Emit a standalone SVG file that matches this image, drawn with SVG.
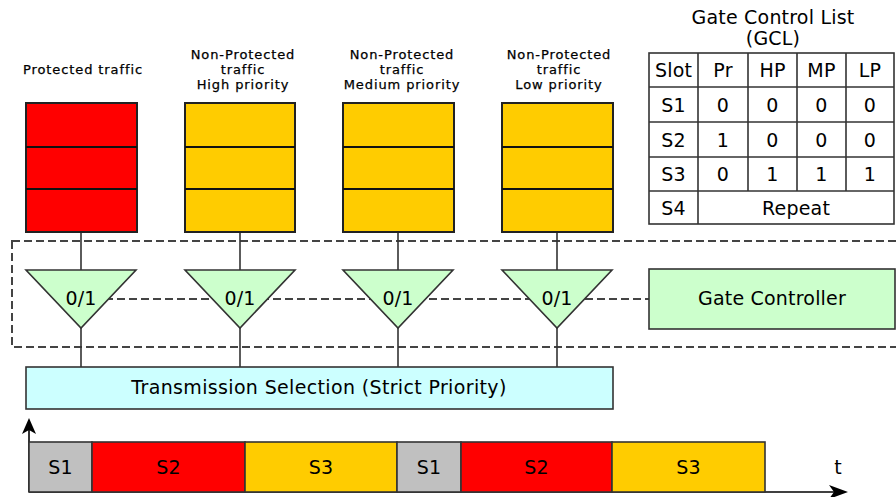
<svg xmlns="http://www.w3.org/2000/svg" width="896" height="497" viewBox="0 0 896 497">
<style>
text{font-family:"DejaVu Sans",Verdana,sans-serif;fill:#000}
.lbl{font-size:13px;text-anchor:middle;letter-spacing:0.9px;stroke:#000;stroke-width:0.25}
.big{font-size:19px;text-anchor:middle;letter-spacing:0.2px}
.q{stroke:#222;stroke-width:2}
.red{fill:#ff0000}
.yel{fill:#ffcc00}
.gry{fill:#c0c0c0}
.div{stroke:#111;stroke-width:2}
.ln{stroke:#333;stroke-width:1.6;fill:none}
.dash{stroke:#444;stroke-width:2;fill:none;stroke-dasharray:8,4}
.tri{fill:#ccffcc;stroke:#333;stroke-width:1.6}
.tbl{fill:#fff;stroke:#333;stroke-width:1.6}
.slot{stroke:#333;stroke-width:1.6}
.axis{stroke:#000;stroke-width:1.6;fill:none}
.head{fill:#000;stroke:none}
</style>

<g id="gate-box">
<rect x="12" y="241" width="900" height="106" class="dash"/>
</g>

<g id="connectors">
<line x1="81" y1="232" x2="81" y2="270" class="ln"/>
<line x1="240" y1="232" x2="240" y2="270" class="ln"/>
<line x1="398" y1="232" x2="398" y2="270" class="ln"/>
<line x1="557" y1="232" x2="557" y2="270" class="ln"/>
<line x1="81" y1="328" x2="81" y2="367" class="ln"/>
<line x1="240" y1="328" x2="240" y2="367" class="ln"/>
<line x1="398" y1="328" x2="398" y2="367" class="ln"/>
<line x1="557" y1="328" x2="557" y2="367" class="ln"/>
<line x1="81" y1="299" x2="649" y2="299" class="dash"/>
<line x1="29" y1="492" x2="29" y2="428" class="axis"/>
<path d="M29,418 L36,434 L29,430 L22,434 Z" class="head"/>
<line x1="29" y1="492" x2="838" y2="492" class="axis"/>
<path d="M848,492 L829,485 L834,492 L829,499 Z" class="head"/>
</g>

<g id="queue-pr">
<text class="lbl" x="83" y="74">Protected traffic</text>
<rect x="26" y="103" width="111" height="129" class="q red"/>
<line x1="26" y1="147" x2="137" y2="147" class="div"/>
<line x1="26" y1="189" x2="137" y2="189" class="div"/>
</g>
<g id="queue-hp">
<text class="lbl" x="243" y="59">Non-Protected</text>
<text class="lbl" x="243" y="74">traffic</text>
<text class="lbl" x="243" y="89">High priority</text>
<rect x="185" y="103" width="110" height="129" class="q yel"/>
<line x1="185" y1="147" x2="295" y2="147" class="div"/>
<line x1="185" y1="189" x2="295" y2="189" class="div"/>
</g>
<g id="queue-mp">
<text class="lbl" x="402" y="59">Non-Protected</text>
<text class="lbl" x="402" y="74">traffic</text>
<text class="lbl" x="402" y="89">Medium priority</text>
<rect x="343" y="103" width="111" height="129" class="q yel"/>
<line x1="343" y1="147" x2="454" y2="147" class="div"/>
<line x1="343" y1="189" x2="454" y2="189" class="div"/>
</g>
<g id="queue-lp">
<text class="lbl" x="559" y="59">Non-Protected</text>
<text class="lbl" x="559" y="74">traffic</text>
<text class="lbl" x="559" y="89">Low priority</text>
<rect x="502" y="103" width="111" height="129" class="q yel"/>
<line x1="502" y1="147" x2="613" y2="147" class="div"/>
<line x1="502" y1="189" x2="613" y2="189" class="div"/>
</g>

<g id="gate-pr">
<polygon points="26,270 136,270 81,328" class="tri"/>
<text class="big" x="81" y="305">0/1</text>
</g>
<g id="gate-hp">
<polygon points="185,270 295,270 240,328" class="tri"/>
<text class="big" x="240" y="305">0/1</text>
</g>
<g id="gate-mp">
<polygon points="343,270 453,270 398,328" class="tri"/>
<text class="big" x="398" y="305">0/1</text>
</g>
<g id="gate-lp">
<polygon points="502,270 612,270 557,328" class="tri"/>
<text class="big" x="557" y="305">0/1</text>
</g>

<g id="gate-controller">
<rect x="649" y="269" width="246" height="60" class="tri"/>
<text class="big" x="772" y="305">Gate Controller</text>
</g>

<g id="transmission-selection">
<rect x="26" y="367" width="587" height="42" fill="#ccffff" stroke="#333" stroke-width="1.6"/>
<text class="big" x="319" y="394" style="letter-spacing:0.35px">Transmission Selection (Strict Priority)</text>
</g>

<g id="gcl">
<text class="big" x="773" y="24">Gate Control List</text>
<text class="big" x="773" y="45">(GCL)</text>
<rect x="649" y="53" width="245" height="171" class="tbl"/>
<line x1="649" y1="87" x2="894" y2="87" class="slot"/>
<line x1="649" y1="122" x2="894" y2="122" class="slot"/>
<line x1="649" y1="157" x2="894" y2="157" class="slot"/>
<line x1="649" y1="191" x2="894" y2="191" class="slot"/>
<line x1="698" y1="53" x2="698" y2="224" class="slot"/>
<line x1="748" y1="53" x2="748" y2="191" class="slot"/>
<line x1="797" y1="53" x2="797" y2="191" class="slot"/>
<line x1="846" y1="53" x2="846" y2="191" class="slot"/>
<text class="big" x="673.5" y="77">Slot</text>
<text class="big" x="723" y="77">Pr</text>
<text class="big" x="772.5" y="77">HP</text>
<text class="big" x="821.5" y="77">MP</text>
<text class="big" x="870" y="77">LP</text>
<text class="big" x="673.5" y="112">S1</text>
<text class="big" x="723" y="112">0</text>
<text class="big" x="772.5" y="112">0</text>
<text class="big" x="821.5" y="112">0</text>
<text class="big" x="870" y="112">0</text>
<text class="big" x="673.5" y="147">S2</text>
<text class="big" x="723" y="147">1</text>
<text class="big" x="772.5" y="147">0</text>
<text class="big" x="821.5" y="147">0</text>
<text class="big" x="870" y="147">0</text>
<text class="big" x="673.5" y="181">S3</text>
<text class="big" x="723" y="181">0</text>
<text class="big" x="772.5" y="181">1</text>
<text class="big" x="821.5" y="181">1</text>
<text class="big" x="870" y="181">1</text>
<text class="big" x="673.5" y="215">S4</text>
<text class="big" x="796" y="215">Repeat</text>
</g>

<g id="timeline">
<rect x="29" y="442" width="63" height="50" class="gry" stroke="#333" stroke-width="1.6"/>
<rect x="92" y="442" width="153" height="50" class="red" stroke="#333" stroke-width="1.6"/>
<rect x="245" y="442" width="152" height="50" class="yel" stroke="#333" stroke-width="1.6"/>
<rect x="397" y="442" width="64" height="50" class="gry" stroke="#333" stroke-width="1.6"/>
<rect x="461" y="442" width="151" height="50" class="red" stroke="#333" stroke-width="1.6"/>
<rect x="612" y="442" width="153" height="50" class="yel" stroke="#333" stroke-width="1.6"/>
<text class="big" x="60.5" y="474">S1</text>
<text class="big" x="168.5" y="474">S2</text>
<text class="big" x="321" y="474">S3</text>
<text class="big" x="429" y="474">S1</text>
<text class="big" x="536.5" y="474">S2</text>
<text class="big" x="688.5" y="474">S3</text>
<text class="big" x="838" y="474">t</text>
</g>
</svg>
